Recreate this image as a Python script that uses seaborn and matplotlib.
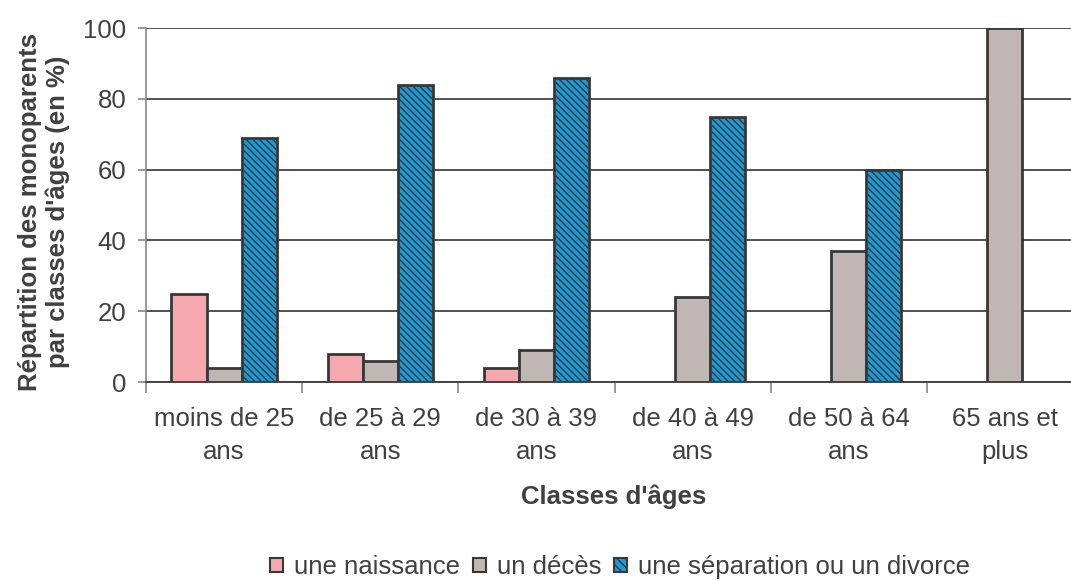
import numpy as np
import pandas as pd
import matplotlib
matplotlib.use("Agg")
import matplotlib.pyplot as plt
import seaborn as sns
from matplotlib.patches import Patch

categories = ["moins de 25\nans", "de 25 à 29\nans", "de 30 à 39\nans",
              "de 40 à 49\nans", "de 50 à 64\nans", "65 ans et\nplus"]
series = ["une naissance", "un décès", "une séparation ou un divorce"]
naissance = [25, 8, 4, np.nan, np.nan, np.nan]
deces = [4, 6, 9, 24, 37, 100]
separation = [69, 84, 86, 75, 60, np.nan]
yticks = [0, 20, 40, 60, 80, 100]

colors = ["#F5A9AE", "#C0B6B3", "#1C9BD8"]
hatch_color = "#4060B2"
edge = "#383838"
text_color = "#404040"
fs = 18.5

rows = []
for s, vals in zip(series, [naissance, deces, separation]):
    for c, v in zip(categories, vals):
        rows.append({"cat": c, "serie": s, "val": v})
df = pd.DataFrame(rows)

sns.set_style("white")
plt.rcParams["font.family"] = ["Liberation Sans", "DejaVu Sans"]
plt.rcParams["hatch.linewidth"] = 1.0
plt.rcParams["hatch.color"] = hatch_color

fig = plt.figure(figsize=(10.71, 5.81), dpi=100)
ax = fig.add_axes([146 / 1071, 1 - 382 / 581, 937 / 1071, 354 / 581])

sns.barplot(data=df, x="cat", y="val", hue="serie", order=categories,
            hue_order=series, palette=colors, width=0.675, gap=0,
            edgecolor=edge, linewidth=2, saturation=1, ax=ax, legend=False,
            errorbar=None)

# hatch the blue series
for p in ax.patches:
    fc = p.get_facecolor()
    if fc[0] < 0.3 and fc[2] > 0.7:
        p.set_hatch("\\\\\\\\\\")
        if hasattr(p, "set_hatchcolor"):
            p.set_hatchcolor(hatch_color)

ax.set_xlim(-0.5, 5.5)
ax.set_ylim(0, 100)
ax.set_yticks(yticks)
ax.set_yticklabels([str(t) for t in yticks])
ax.yaxis.grid(True, color="#333333", linewidth=1.2)
ax.set_axisbelow(True)

ax.set_xticks(range(len(categories)))
ax.set_xticklabels(categories, linespacing=1.45)
ax.set_xticks(np.arange(-0.5, 6.0, 1.0), minor=True)
ax.tick_params(axis="x", which="major", length=0, pad=18, labelsize=fs,
               labelcolor=text_color)
ax.tick_params(axis="x", which="minor", length=8, width=1.2, color="#888888",
               direction="out", bottom=True)
ax.tick_params(axis="y", which="major", length=6, width=1.2, color="#888888",
               direction="out", left=True, pad=8, labelsize=fs,
               labelcolor=text_color)

for s in ["top", "right"]:
    ax.spines[s].set_visible(False)
ax.spines["left"].set_color("#888888")
ax.spines["left"].set_linewidth(1.2)
ax.spines["bottom"].set_color("#444444")
ax.spines["bottom"].set_linewidth(1.4)

ax.set_xlabel("")
ax.set_ylabel("")
fig.text(44 / 1071, 1 - 212 / 581,
         "Répartition des monoparents\npar classes d'âges (en %)",
         rotation=90, ha="center", va="center", fontsize=fs,
         fontweight="bold", color=text_color, linespacing=1.15)
fig.text(614 / 1071, 1 - 497 / 581, "Classes d'âges", ha="center",
         va="center", fontsize=fs, fontweight="bold", color=text_color)

handles = [Patch(facecolor=colors[0], edgecolor=edge, linewidth=1.5),
           Patch(facecolor=colors[1], edgecolor=edge, linewidth=1.5),
           Patch(facecolor=colors[2], edgecolor=edge, linewidth=1.5,
                 hatch="\\\\\\\\")]
leg = fig.legend(handles, series, loc="center",
                 bbox_to_anchor=(620 / 1071, 1 - 567 / 581), ncol=3,
                 frameon=False, fontsize=fs, handlelength=0.5,
                 handleheight=0.5, handletextpad=0.42, columnspacing=0.5)
for t in leg.get_texts():
    t.set_color(text_color)

fig.savefig("out.png", dpi=100)
